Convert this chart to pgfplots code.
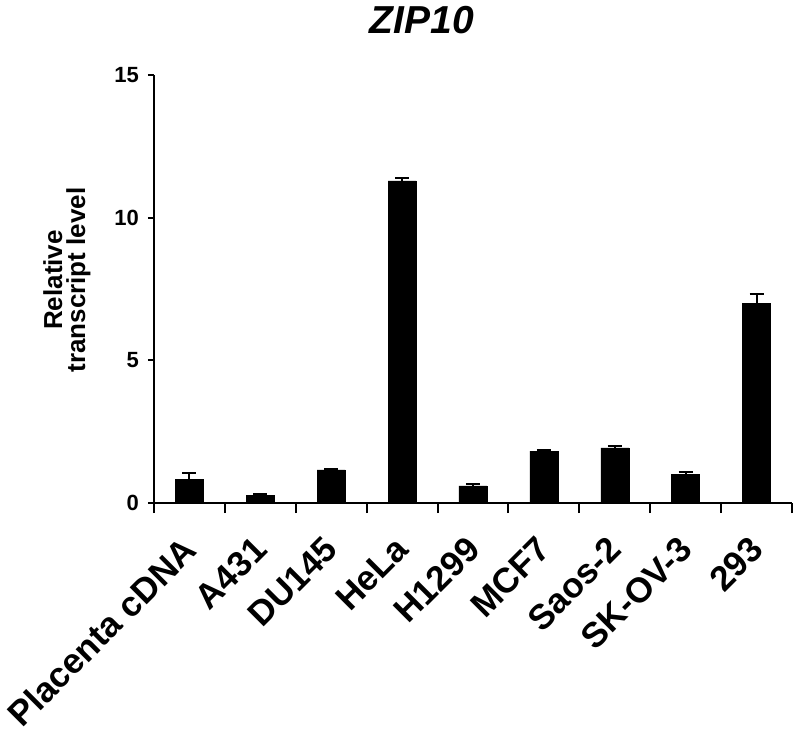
\documentclass[border=0pt]{standalone}
\usepackage{fontspec}
\setmainfont{Liberation Sans}
\usepackage{pgfplots}
\pgfplotsset{compat=1.18}

\begin{document}
\begin{tikzpicture}
\begin{axis}[
  scale only axis, width=638bp, height=428bp,
  xmin=-0.5, xmax=8.5, ymin=0, ymax=15,
  axis x line*=bottom, axis y line*=left,
  axis line style={line width=2.3bp},
  ytick={0,5,10,15},
  xtick={0,...,8},
  xticklabels={Placenta cDNA,A431,DU145,HeLa,H1299,MCF7,Saos-2,SK-OV-3,293},
  major x tick style={draw=none},
  minor xtick={-0.5,0.5,...,8.5},
  tick align=outside,
  major tick length=6bp, minor tick length=10bp,
  tick style={line width=2bp, black},
  /pgf/number format/assume math mode=true,
  yticklabel style={font=\fontsize{22bp}{24bp}\selectfont\bfseries, inner sep=0pt, xshift=-9bp},
  xticklabel style={font=\fontsize{35bp}{38bp}\selectfont\bfseries, rotate=45, anchor=north east, inner sep=0pt, xshift=-24bp, yshift=-12bp},
  ybar, bar width=28bp,
  clip=false,
]
\addplot[fill=black, draw=black,
  error bars/.cd, y dir=plus, y explicit, error mark=|,
  error bar style={line width=2bp, black},
  error mark options={line width=2bp, mark size=7bp, black}]
  coordinates {
  (0,0.83) +- (0,0.23)
  (1,0.28) +- (0,0.05)
  (2,1.16) +- (0,0.02)
  (3,11.29) +- (0,0.11)
  (4,0.60) +- (0,0.08)
  (5,1.82) +- (0,0.04)
  (6,1.93) +- (0,0.08)
  (7,1.01) +- (0,0.09)
  (8,7.00) +- (0,0.32)
  };
\end{axis}
\node[anchor=base, font=\fontsize{39bp}{40bp}\selectfont\bfseries\itshape] at (268bp,469bp) {ZIP10};
\node[rotate=90, align=center, font=\fontsize{26bp}{23bp}\selectfont\bfseries] at (-87bp,223bp) {Relative\\transcript level};
\pgfresetboundingbox
\path[use as bounding box] (-154bp,-231bp) rectangle (639bp,503bp);
\end{tikzpicture}
\end{document}
